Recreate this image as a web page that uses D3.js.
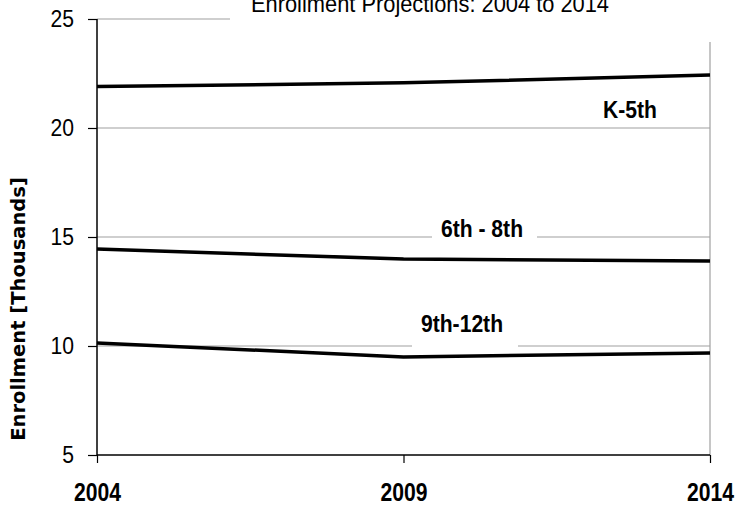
<!DOCTYPE html>
<html><head><meta charset="utf-8">
<script src="https://cdn.jsdelivr.net/npm/d3@7/dist/d3.min.js"></script>
<style>
body{margin:0;background:#fff;}
svg{display:block;}
</style></head>
<body>
<svg id="c" width="750" height="507"></svg>
<script>
const years = [2004, 2009, 2014];
const k5 = [21.9, 22.07, 22.43];
const g68 = [14.45, 13.99, 13.9];
const g912 = [10.14, 9.5, 9.68];
const yTicks = [5, 10, 15, 20, 25];
const seriesNames = ["K-5th", "6th - 8th", "9th-12th"];
const title = "Enrollment Projections: 2004 to 2014";
const yTitle = "Enrollment [Thousands]";

const svg = d3.select("#c");
const font = "'Liberation Sans','Arial',sans-serif";
const SX = 0.88; // horizontal condensing to imitate a narrow face
const x = d3.scaleLinear().domain([2004, 2014]).range([97, 710]);
const y = d3.scaleLinear().domain([5, 25]).range([455, 19]);

// gridlines
svg.append("g").selectAll("line").data(yTicks.filter(d => d > 5)).join("line")
  .attr("x1", x(2004)).attr("x2", x(2014))
  .attr("y1", d => y(d)).attr("y2", d => y(d))
  .attr("stroke", "#a0a0a0").attr("stroke-width", 1.2);
// right border
svg.append("line").attr("x1", x(2014)).attr("x2", x(2014))
  .attr("y1", y(25)).attr("y2", y(5)).attr("stroke", "#a0a0a0").attr("stroke-width", 1.2);

// lines
const line = d3.line().x((d, i) => x(years[i])).y(d => y(d));
[k5, g68, g912].forEach(s => {
  svg.append("path").attr("d", line(s)).attr("fill", "none")
    .attr("stroke", "#000").attr("stroke-width", 3.5).attr("stroke-linejoin", "round");
});

// axes
const yAxis = d3.axisLeft(y).tickValues(yTicks).tickSize(9).tickPadding(14).tickFormat(d3.format("d"));
const gy = svg.append("g").attr("transform", `translate(${x(2004)},0)`).call(yAxis);
gy.select(".domain").attr("stroke", "#000").attr("stroke-width", 1.5).attr("d", `M0,${y(25)}V${y(5)}`);
gy.selectAll(".tick line").attr("stroke", "#000").attr("stroke-width", 1.2);
gy.selectAll(".tick text").attr("font-family", font).attr("font-size", 24).attr("fill", "#000")
  .attr("x", -23 / SX).attr("dy", "0.33em").attr("transform", `scale(${SX},1)`);

const xAxis = d3.axisBottom(x).tickValues(years).tickSize(8).tickPadding(20).tickFormat(d3.format("d"));
const gx = svg.append("g").attr("transform", `translate(0,${y(5)})`).call(xAxis);
gx.select(".domain").attr("stroke", "#000").attr("stroke-width", 1.5).attr("d", `M${x(2004)},0H${x(2014)}`);
gx.selectAll(".tick line").attr("stroke", "#000").attr("stroke-width", 1.2);
gx.selectAll(".tick text").attr("font-family", font).attr("font-size", 25).attr("font-weight", "bold")
  .attr("fill", "#000").attr("transform", `scale(${SX * 0.96},1)`);

function condensedText(parent, tx, ty, str, size, weight, sx) {
  const g = parent.append("g").attr("transform", `translate(${tx},${ty}) scale(${sx},1)`);
  g.append("text").attr("x", 0).attr("y", 0).attr("text-anchor", "middle")
    .attr("font-family", font).attr("font-size", size).attr("font-weight", weight)
    .attr("fill", "#000").text(str);
  return g;
}

// title with white box
svg.append("rect").attr("x", 230).attr("y", 0).attr("width", 520).attr("height", 42).attr("fill", "#fff");
condensedText(svg, 430, 12, title, 24, "normal", 0.91);

// series labels with white boxes over gridlines
const labels = [
  {t: seriesNames[0], cx: 630, by: 118, box: null},
  {t: seriesNames[1], cx: 482, by: 237, box: [432, 216, 105, 26]},
  {t: seriesNames[2], cx: 462, by: 332, box: [412, 311, 106, 38]}
];
labels.forEach(p => {
  if (p.box) svg.append("rect").attr("x", p.box[0]).attr("y", p.box[1])
    .attr("width", p.box[2]).attr("height", p.box[3]).attr("fill", "#fff");
  condensedText(svg, p.cx, p.by, p.t, 24, "bold", SX);
});

// y title
svg.append("text").attr("transform", `translate(25,309) rotate(-90)`)
  .attr("text-anchor", "middle").attr("font-family", "'DejaVu Sans',Verdana,sans-serif")
  .attr("font-size", 19.5).attr("font-weight", "bold").attr("fill", "#000").text(yTitle);
</script>
</body></html>
